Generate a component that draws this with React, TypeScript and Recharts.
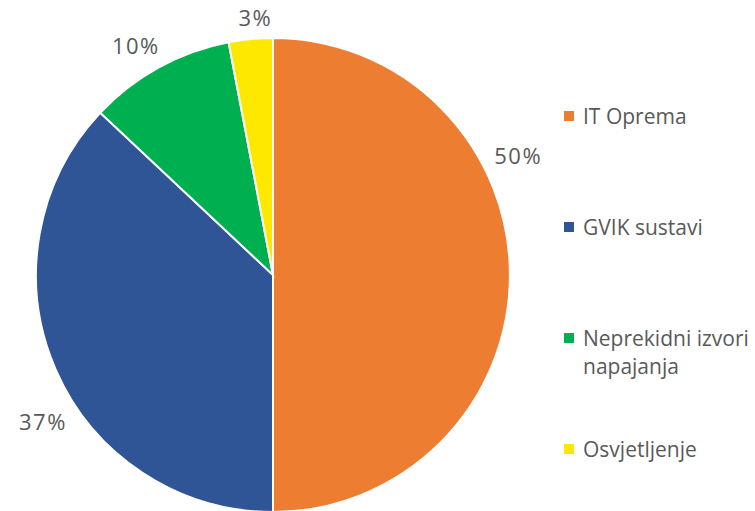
import { Cell, Legend, Pie, PieChart } from "recharts";

const categories = ["IT Oprema", "GVIK sustavi", "Neprekidni izvori napajanja", "Osvjetljenje"];
const shares = [50, 37, 10, 3];
const colors = ["#ED7D31", "#2F5597", "#00B050", "#FFE800"];

const data = categories.map((name, i) => ({ name, value: shares[i] }));

const FONT = "'Open Sans', sans-serif";
const TEXT = "#595959";

const RADIAN = Math.PI / 180;
// Excel's "best fit" rotates labels a little off the slice middle
const labelTurn: Record<number, number> = { 0: 26, 1: 9, 2: 2, 3: -1.5 };

function PctLabel(props: any) {
  const { cx, cy, midAngle, outerRadius, value, index } = props;
  const angle = midAngle + (labelTurn[index] ?? 0);
  const cos = Math.cos(-angle * RADIAN);
  const sin = Math.sin(-angle * RADIAN);
  const txt = `${value}%`;
  const halfW = ((txt.length - 1) * 12.5 + 18) / 2;
  const r = outerRadius + 13 + halfW * Math.abs(cos) + 8 * Math.abs(sin);
  return (
    <text
      x={cx + r * cos}
      y={cy + r * sin}
      fill={TEXT}
      fontSize={22}
      letterSpacing={1.5}
      fontFamily={FONT}
      textAnchor="middle"
      dominantBaseline="central"
    >
      {txt}
    </text>
  );
}

function SideLegend() {
  return (
    <div style={{ fontFamily: FONT, fontSize: 21, color: TEXT, lineHeight: "28px" }}>
      {data.map((d, i) => (
        <div key={d.name} style={{ display: "flex", height: 111 }}>
          <div
            style={{
              width: 10,
              height: 10,
              marginTop: 9,
              marginRight: 9,
              flexShrink: 0,
              background: colors[i],
            }}
          />
          <div style={{ width: 170 }}>{d.name}</div>
        </div>
      ))}
    </div>
  );
}

export default function App() {
  return (
    <div style={{ position: "absolute", left: 0, top: 0, width: 755, height: 511, background: "#fff" }}>
      <PieChart width={755} height={511} margin={{ top: 0, right: 0, bottom: 0, left: 0 }}>
        <Pie
          data={data}
          dataKey="value"
          nameKey="name"
          cx={273}
          cy={275}
          outerRadius={237}
          startAngle={90}
          endAngle={-270}
          stroke="#ffffff"
          strokeWidth={2}
          label={PctLabel}
          labelLine={false}
          isAnimationActive={false}
        >
          {data.map((d, i) => (
            <Cell key={d.name} fill={colors[i]} />
          ))}
        </Pie>
        <Legend
          layout="vertical"
          align="right"
          verticalAlign="top"
          content={<SideLegend />}
          wrapperStyle={{ left: 564, top: 102, width: 191 }}
        />
      </PieChart>
    </div>
  );
}
